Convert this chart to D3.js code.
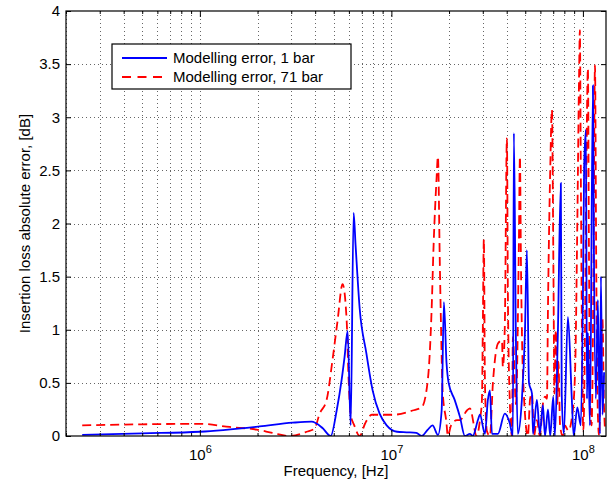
<!DOCTYPE html>
<html>
<head>
<meta charset="utf-8">
<script src="https://cdn.jsdelivr.net/npm/d3@7"></script>
<style>
  body { margin: 0; background: #fff; }
  svg { font-family: "Liberation Sans", Arial, sans-serif; }
</style>
</head>
<body>
<script>
// Frequencies in MHz, errors in dB
const freqBlue = [0.243, 0.5, 1.0, 2.05, 3.05, 3.83, 4.37, 4.82, 5.18, 5.50, 5.70, 5.91, 6.13, 6.35, 6.5, 6.83, 7.40, 7.98, 8.68, 9.45,
  10.7, 12.0, 13.5, 14.4, 15.5, 16.4, 17.5, 18.3, 18.8, 19.4, 19.9, 21.4, 22.8, 24.2, 25.7, 26.6, 28.3, 29.0, 30.8, 31.9,
  32.7, 33.5, 36.0, 39.1, 41.5, 43.1, 43.6, 44.7, 45.7, 48.0, 49.8, 51.0, 52.3, 54.2, 54.9, 57.5, 59.6, 61.8, 63.4, 65.7,
  67.5, 70.0, 71.4, 74.0, 76.7, 77.5, 79.5, 83.5, 87.5, 89.5, 93.5, 97.5, 100, 101.5, 103.7, 105.0, 106.2, 108.8, 112.8, 114,
  116.9, 119.7, 122.7, 124.2, 126.5, 129];
const errBlue = [0.01, 0.025, 0.04, 0.09, 0.125, 0.135, 0.075, 0.0, 0.24, 0.53, 0.75, 0.99, 0.1, 2.1, 1.8, 1.2, 0.78, 0.43, 0.21, 0.1,
  0.04, 0.035, 0.03, 0.0, 0.06, 0.1, 0.01, 0.24, 1.26, 0.69, 0.5, 0.34, 0.18, 0.0, 0.02, 0.0, 0.15, 0.2, 0.02, 0.34,
  0.43, 0.02, 0.02, 0.21, 0.12, 0.0, 2.85, 0.9, 0.02, 0.34, 0.97, 1.75, 0.5, 0.4, 0.02, 0.34, 0.02, 0.29, 0.0, 0.25,
  0.0, 0.37, 0.0, 0.97, 2.38, 0.4, 0.02, 1.12, 0.35, 0.0, 0.27, 0.1, 1.28, 2.53, 2.88, 0.35, 0.97, 0.1, 3.3, 1.9,
  0.35, 1.28, 0.02, 1.5, 0.2, 0.6];

const freqRed = [0.243, 0.5, 1.0, 1.43, 1.98, 2.39, 2.94, 3.61, 3.97, 4.22, 4.59, 4.93, 5.24, 5.56, 5.84, 5.98, 6.13, 6.4, 6.83, 7.3,
  7.9, 8.38, 10.2, 12.9, 14.4, 15.5, 16.2, 16.6, 17.2, 17.5, 17.9, 18.3, 18.5, 19.4, 19.7, 20.5, 22.0, 22.8, 24.8, 25.7,
  27.9, 29.0, 29.7, 30.0, 30.4, 30.8, 31.5, 32.7, 33.9, 36.0, 37.8, 38.2, 39.1, 40.1, 40.6, 41.5, 42.6, 43.1, 44.7, 46.3,
  46.9, 47.5, 48.6, 51.6, 53.0, 54.2, 55.5, 57.5, 59.6, 61.8, 63.4, 64.9, 65.7, 67.5, 68.9, 70.2, 71.0, 72.2, 73.5, 74.5,
  76.0, 78.5, 80.5, 84.0, 88.0, 91.0, 93.5, 95.5, 96.4, 97.5, 99.0, 100.5, 102, 104, 106.2, 107.5, 109, 111, 113.5, 115.6,
  117.5, 119.7, 121.5, 124.2, 126.5, 128.8, 130.5];
const errRed = [0.10, 0.11, 0.115, 0.085, 0.06, 0.03, 0.0, 0.04, 0.07, 0.21, 0.34, 0.72, 1.09, 1.43, 1.09, 0.53, 0.2, 0.1, 0.0, 0.12,
  0.2, 0.20, 0.20, 0.24, 0.27, 0.53, 1.16, 1.78, 2.41, 2.63, 1.63, 0.75, 0.43, 0.12, 0.0, 0.10, 0.15, 0.15, 0.24, 0.26,
  0.0, 0.15, 0.34, 0.97, 1.85, 0.5, 0.05, 0.0, 0.5, 0.87, 0.9, 0.65, 1.03, 2.8, 1.3, 0.34, 0.0, 0.93, 0.3, 1.8,
  2.63, 1.6, 0.6, 0.0, 0.35, 0.4, 0.0, 0.15, 0.0, 0.3, 0.37, 0.35, 1.2, 2.5, 3.07, 1.5, 0.4, 1.0, 0.3, 0.7,
  0.1, 0.0, 0.1, 0.05, 0.2, 0.6, 2.0, 3.4, 3.82, 2.5, 0.8, 0.05, 0.6, 2.3, 3.46, 1.8, 0.3, 0.1, 1.5, 3.49,
  1.5, 0.2, 0.0, 0.7, 1.1, 0.3, 0.05];

const majorX = [1e6, 1e7, 1e8];
const yTicks = [0, 0.5, 1, 1.5, 2, 2.5, 3, 3.5, 4];
const legendLabels = ["Modelling error, 1 bar", "Modelling error, 71 bar"];

const width = 613;
const height = 484;
const margin = { top: 11, right: 7, bottom: 48, left: 66 };
const plotW = width - margin.left - margin.right;
const plotH = height - margin.top - margin.bottom;

const x = d3.scaleLog().domain([2e5, 1.32e8]).range([0, plotW]);
const y = d3.scaleLinear().domain([0, 4]).range([plotH, 0]);

// minor ticks for the log axis: 2..9 of each decade
const minorX = [];
for (let p = 5; p <= 8; p++) {
  for (let k = 2; k <= 9; k++) {
    const v = k * Math.pow(10, p);
    if (v >= 2e5 && v <= 1.32e8) minorX.push(v);
  }
}

const svg = d3
  .select("body")
  .append("svg")
  .attr("width", width)
  .attr("height", height);

const g = svg.append("g").attr("transform", "translate(" + margin.left + "," + margin.top + ")");

// grid
const grid = g.append("g").attr("stroke", "#666").attr("stroke-width", 1).attr("stroke-dasharray", "1,3");
grid
  .selectAll(".vgrid")
  .data(minorX.concat(majorX))
  .enter()
  .append("line")
  .attr("x1", (d) => Math.round(x(d)) + 0.5)
  .attr("x2", (d) => Math.round(x(d)) + 0.5)
  .attr("y1", 0)
  .attr("y2", plotH);
grid
  .selectAll(".hgrid")
  .data(yTicks.slice(1, -1))
  .enter()
  .append("line")
  .attr("x1", 0)
  .attr("x2", plotW)
  .attr("y1", (d) => Math.round(y(d)) + 0.5)
  .attr("y2", (d) => Math.round(y(d)) + 0.5);

// curves
g.append("clipPath").attr("id", "clip").append("rect").attr("width", plotW).attr("height", plotH);

const line = d3
  .line()
  .curve(d3.curveMonotoneX)
  .x((d) => x(d[0] * 1e6))
  .y((d) => y(d[1]));

const redData = freqRed.map((f, i) => [f, errRed[i]]);
const blueData = freqBlue.map((f, i) => [f, errBlue[i]]);

g.append("path")
  .datum(redData)
  .attr("clip-path", "url(#clip)")
  .attr("d", line)
  .attr("fill", "none")
  .attr("stroke", "#ff0000")
  .attr("stroke-width", 1.8)
  .attr("stroke-dasharray", "9,5");

g.append("path")
  .datum(blueData)
  .attr("clip-path", "url(#clip)")
  .attr("d", line)
  .attr("fill", "none")
  .attr("stroke", "#0000ff")
  .attr("stroke-width", 1.8);

// axes, ticks pointing inward like matlab
function styleAxis(sel) {
  sel.select(".domain").remove();
  sel.selectAll(".tick line").attr("stroke", "#000");
}

g.append("g")
  .attr("transform", "translate(0," + plotH + ")")
  .call(d3.axisBottom(x).tickValues(minorX).tickSizeInner(-3).tickSizeOuter(0).tickFormat(""))
  .call(styleAxis);
g.append("g")
  .call(d3.axisTop(x).tickValues(minorX).tickSizeInner(-3).tickSizeOuter(0).tickFormat(""))
  .call(styleAxis);

const xMajor = g
  .append("g")
  .attr("transform", "translate(0," + plotH + ")")
  .call(d3.axisBottom(x).tickValues(majorX).tickSizeInner(-6).tickSizeOuter(0).tickFormat(""))
  .call(styleAxis);
g.append("g")
  .call(d3.axisTop(x).tickValues(majorX).tickSizeInner(-6).tickSizeOuter(0).tickFormat(""))
  .call(styleAxis);

// 10^n labels
xMajor.selectAll(".tick").each(function (d) {
  const t = d3
    .select(this)
    .append("text")
    .attr("y", 24)
    .attr("fill", "#000")
    .attr("text-anchor", "middle")
    .style("font-size", "15px");
  t.append("tspan").text("10");
  t.append("tspan")
    .attr("dy", -7)
    .style("font-size", "11px")
    .text(Math.round(Math.log10(d)));
});

g.append("g")
  .call(d3.axisLeft(y).tickValues(yTicks).tickSizeInner(-5).tickSizeOuter(0).tickPadding(6).tickFormat(d3.format("")))
  .call(styleAxis)
  .selectAll("text")
  .attr("fill", "#000")
  .style("font-size", "15px")
  .style("font-family", "Liberation Sans, Arial, sans-serif");
g.append("g")
  .attr("transform", "translate(" + plotW + ",0)")
  .call(d3.axisRight(y).tickValues(yTicks).tickSizeInner(-5).tickSizeOuter(0).tickFormat(""))
  .call(styleAxis);

// box
g.append("rect")
  .attr("x", 0)
  .attr("y", 0)
  .attr("width", plotW)
  .attr("height", plotH)
  .attr("fill", "none")
  .attr("stroke", "#000")
  .attr("stroke-width", 1.2);

// axis titles
svg
  .append("text")
  .attr("x", margin.left + plotW / 2)
  .attr("y", 476)
  .attr("text-anchor", "middle")
  .style("font-size", "15px")
  .text("Frequency, [Hz]");

svg
  .append("text")
  .attr("transform", "translate(30," + (margin.top + plotH / 2) + ") rotate(-90)")
  .attr("text-anchor", "middle")
  .style("font-size", "15px")
  .text("Insertion loss absolute error, [dB]");

// legend
const legend = svg.append("g").attr("transform", "translate(112,44)");
legend
  .append("rect")
  .attr("width", 239)
  .attr("height", 45)
  .attr("fill", "#fff")
  .attr("stroke", "#000")
  .attr("stroke-width", 1.2);

const legendItems = legend
  .selectAll(".item")
  .data(legendLabels)
  .enter()
  .append("g")
  .attr("transform", (d, i) => "translate(0," + (14 + i * 19) + ")");

legendItems
  .append("line")
  .attr("x1", 10)
  .attr("x2", 55)
  .attr("stroke", (d, i) => (i === 0 ? "#0000ff" : "#ff0000"))
  .attr("stroke-width", 1.8)
  .attr("stroke-dasharray", (d, i) => (i === 0 ? null : "9,6.5"));

legendItems
  .append("text")
  .attr("x", 61)
  .attr("dy", "0.35em")
  .style("font-size", "15px")
  .text((d) => d);
</script>
</body>
</html>
